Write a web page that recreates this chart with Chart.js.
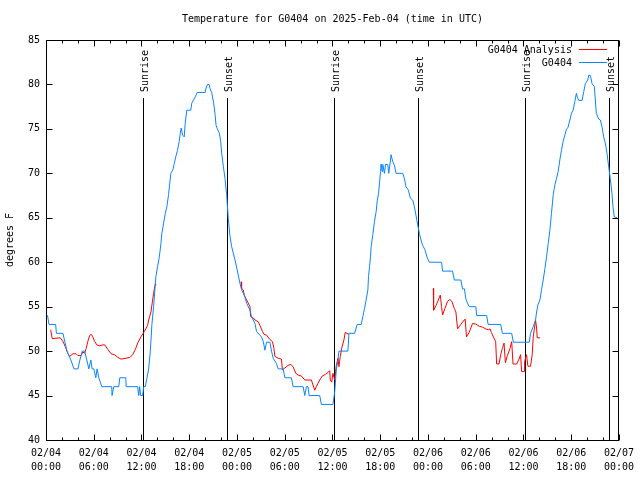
<!DOCTYPE html>
<html lang="en">
<head>
<meta charset="UTF-8">
<title>Temperature for G0404</title>
<script src="https://cdn.jsdelivr.net/npm/chart.js"></script>
<style>
  html, body { margin: 0; padding: 0; background: #fff; }
</style>
</head>
<body>
<canvas id="tempChart" width="640" height="480"></canvas>
<script>
// hours after 02/04 00:00 UTC, temperature in degrees F
var obsHours = [0.00,0.19,0.38,1.21,1.31,2.13,2.38,2.63,3.13,3.51,
  4.01,4.26,4.55,4.85,5.13,5.38,5.63,5.80,6.01,6.26,
  6.42,6.64,7.01,8.26,8.30,8.51,9.14,9.27,10.02,10.08,
  11.52,11.65,11.77,11.90,12.15,12.27,12.48,12.65,12.90,13.11,
  13.31,13.52,13.81,14.02,14.24,14.44,14.56,14.78,14.99,15.19,
  15.40,15.53,15.69,15.94,16.12,16.32,16.53,16.74,16.87,16.99,
  17.16,17.37,17.49,17.69,18.19,18.32,18.53,18.75,19.00,20.00,
  20.12,20.29,20.50,20.62,20.82,21.07,21.25,21.37,21.54,21.79,
  21.95,22.08,22.29,22.50,22.70,22.92,23.13,23.33,23.75,24.08,
  24.38,24.58,25.01,25.21,25.63,25.83,26.26,26.46,27.08,27.30,
  27.51,27.71,28.14,28.34,28.55,28.96,29.18,29.80,30.02,30.84,
  31.05,32.31,32.52,32.72,32.93,33.06,34.40,34.60,36.06,36.28,
  36.48,36.69,36.81,37.94,38.07,38.78,39.11,39.61,39.82,40.03,
  40.23,40.45,40.53,40.66,40.78,40.86,41.07,41.28,41.49,41.61,
  41.79,41.91,42.04,42.11,42.24,42.32,42.54,42.66,42.95,43.07,
  43.29,43.36,43.58,43.79,43.99,44.83,45.04,45.24,45.54,45.79,
  46.08,46.29,46.49,46.71,46.92,47.12,47.33,47.62,47.87,48.17,
  49.71,49.84,51.09,51.31,52.13,52.34,52.59,52.75,52.97,53.18,
  54.01,54.13,55.38,55.56,57.14,57.35,58.52,58.73,60.73,60.89,
  61.23,61.52,61.65,61.82,62.07,62.27,62.48,62.70,62.90,63.11,
  63.32,63.52,63.74,63.95,64.15,64.36,64.57,64.78,64.99,65.20,
  65.40,65.61,65.83,66.03,66.24,66.45,66.65,66.80,66.95,67.37,
  67.58,67.78,68.08,68.21,68.41,68.62,68.91,69.03,69.16,69.46,
  69.66,69.87,70.08,70.29,70.50,70.71,70.91,71.12,71.25,71.41,
  71.75];
var obsTemps = [54,54,53,53,52,52,51,50,49,48,
  48,49,50,50,49,48,49,48,48,47,
  48,47,46,46,45,46,46,47,47,46,
  46,45,46,45,45,46,46,46.8,48,50,
  53,55,58.4,59.5,60.6,62.1,63.25,64.4,65.5,66.25,
  67.6,68.7,70,70.4,71.1,71.9,72.6,73.6,74.5,75.1,
  74.3,74.1,75.6,77.1,77.1,77.9,78.25,78.6,79.1,79.1,
  79.6,80,80,79.5,79.1,77.9,76.6,75.4,75,74.5,
  73.6,72.25,70.75,69.4,67.6,64.75,62.9,61.75,60.25,58.9,
  57.6,56.9,56.1,55.4,54.6,53.9,53.1,52.2,51.6,51.1,
  50.1,51,51,50,49.2,48.6,48,48,47,47,
  46,46,45,46,46,45,45,44,44,45.4,
  47.9,49,50,50,52,52,53,53,53.9,54.8,
  55.75,56.9,58.4,59.5,60.6,61.75,63.1,64.6,65.7,66.8,
  67.75,68.9,70.2,71.05,70.2,71,70,71,71,70,
  71.5,72.1,71.3,70.9,70,70,69.4,68.5,68.1,67.2,
  67,66.25,65.3,64.2,63.25,62.5,61.9,61.4,60.6,60,
  60,59,59,58,58,57,57,55.9,55.4,55,
  55,54,54,53,53,52,52,51,51,52,
  52.75,53.5,54.4,55.2,55.75,56.9,58,59.3,60.6,62.1,
  63.6,65.5,67.6,68.7,69.4,70.2,71.5,72.6,73.6,74.3,
  74.95,75.2,76,76.75,77.1,78.06,79,78.5,78.2,78.2,
  79.2,80.1,80.5,81.06,81,80.1,79.75,78.25,76.75,76.1,
  76,75.25,74.1,73.4,72.25,70.75,69.4,67.75,66.25,65.1,
  65];

// analysis comes in three separate pieces
var anaHours1 = [0.59,0.79,1.79,2.13,2.42,2.75,2.97,3.38,3.79,4.01,
  4.42,4.63,4.85,5.05,5.26,5.47,5.67,5.89,6.10,6.39,
  6.72,7.14,7.39,7.76,8.18,8.60,9.02,9.43,10.06,10.56,
  10.89,11.23,11.52,11.93,12.36,12.77,12.90,13.19,13.40,13.52,
  13.74,13.84];
var anaTemps1 = [52.4,51.4,51.5,51.1,50.5,49.75,49.4,49.7,49.7,49.5,
  49.5,49.9,49.75,50.3,51.1,51.7,51.9,51.6,51.1,50.7,
  50.6,50.7,50.7,50.2,49.7,49.6,49.3,49.1,49.2,49.3,
  49.6,50.2,50.9,51.6,52.2,52.9,53.5,54.4,55.75,56.5,
  57.6,57.5];
var anaHours2 = [24.51,24.58,24.79,24.92,25.21,25.42,25.63,25.71,26.04,26.26,
  26.67,26.88,27.21,27.39,27.71,28.14,28.46,28.64,28.76,29.18,
  29.59,29.71,30.02,30.43,30.77,31.05,31.39,31.68,32.09,32.52,
  33.35,33.77,33.97,34.40,34.72,35.15,35.44,35.65,35.73,35.90,
  36.06,36.28,36.48,36.69,36.81,36.98,37.15,37.44,37.60,37.85,
  37.94];
var anaTemps2 = [57.8,57.06,56.9,56.25,55.75,55.4,55.0,53.9,53.75,53.5,
  53.3,52.9,52.2,51.9,51.8,51.3,51.06,50.3,49.4,49.2,
  49.1,47.9,48.1,48.4,48.5,48.25,47.5,47.3,47.2,46.75,
  46.75,45.6,46.0,46.75,47.2,47.4,47.6,47.8,46.75,46.5,
  47.5,46.75,48.4,49.2,48.25,49.4,50.3,51.25,52.1,52.0,
  51.9];
var anaHours3 = [48.67,48.71,49.00,49.30,49.55,49.71,49.84,50.13,50.46,50.75,
  51.00,51.31,51.51,51.72,52.13,52.55,52.68,52.84,53.18,53.59,
  54.01,54.43,54.85,55.26,55.60,55.81,55.97,56.22,56.51,56.63,
  56.93,57.14,57.35,57.56,57.73,57.98,58.31,58.52,58.69,59.14,
  59.44,59.64,59.77,60.07,60.14,60.39,60.56,60.89,61.10,61.23,
  61.40,61.52,61.65,61.73,62.07];
var anaTemps3 = [57.06,54.6,55.1,55.75,56.3,55,54.06,54.8,55.6,55.8,
  55.6,54.8,54.4,52.5,53.0,53.5,53.6,51.6,52.1,53.1,
  53.05,52.8,52.7,52.5,52.4,52.5,52.1,51.6,51.06,48.55,
  48.55,49.6,50.3,50.9,48.7,49.5,50.3,51.06,48.55,48.55,
  49.1,49.6,47.7,47.7,48.8,49.6,48.3,48.3,49.6,51.6,
  52.7,53.5,52.6,51.5,51.5];

var sunHours = [12.19, 22.70, 36.23, 46.79, 60.14, 70.78];
var sunLabels = ['Sunrise', 'Sunset', 'Sunrise', 'Sunset', 'Sunrise', 'Sunset'];

var xTickLabels = [['02/04','00:00'],['02/04','06:00'],['02/04','12:00'],['02/04','18:00'],
  ['02/05','00:00'],['02/05','06:00'],['02/05','12:00'],['02/05','18:00'],
  ['02/06','00:00'],['02/06','06:00'],['02/06','12:00'],['02/06','18:00'],
  ['02/07','00:00']];

var chartTitle = 'Temperature for G0404 on 2025-Feb-04 (time in UTC)';
var MONO = '"DejaVu Sans Mono", "Liberation Mono", monospace';

function toPoints(hours, temps) {
  return hours.map(function (h, i) { return { x: h, y: temps[i] }; });
}

// null point between pieces so the line breaks
var analysisData = toPoints(anaHours1, anaTemps1)
  .concat([{ x: 14, y: null }])
  .concat(toPoints(anaHours2, anaTemps2))
  .concat([{ x: 38, y: null }])
  .concat(toPoints(anaHours3, anaTemps3));

// gnuplot style frame, inward ticks, sun lines, title and key
var gnuplotLook = {
  id: 'gnuplotLook',
  beforeDatasetsDraw: function (chart) {
    var ctx = chart.ctx, a = chart.chartArea, x = chart.scales.x;
    ctx.save();
    ctx.strokeStyle = '#000';
    ctx.fillStyle = '#000';
    ctx.lineWidth = 1;
    ctx.font = '10px ' + MONO;
    sunHours.forEach(function (h, i) {
      var px = Math.round(x.getPixelForValue(h)) + 0.5;
      ctx.beginPath();
      ctx.moveTo(px, a.top + 58);
      ctx.lineTo(px, a.bottom);
      ctx.stroke();
      ctx.save();
      ctx.translate(px + 2, a.top + 52);
      ctx.rotate(-Math.PI / 2);
      ctx.textAlign = 'left';
      ctx.textBaseline = 'middle';
      ctx.fillText(sunLabels[i], 0, 0);
      ctx.restore();
    });
    ctx.restore();
  },
  afterDatasetsDraw: function (chart) {
    var ctx = chart.ctx, a = chart.chartArea;
    var x = chart.scales.x, y = chart.scales.y;
    var L = Math.round(a.left) + 0.5, R = Math.round(a.right) - 0.5;
    var T = Math.round(a.top) + 0.5, B = Math.round(a.bottom) + 0.5;
    ctx.save();
    ctx.strokeStyle = '#000';
    ctx.lineWidth = 1;
    ctx.beginPath();
    x.ticks.forEach(function (t) {
      var px = Math.round(x.getPixelForValue(t.value)) + 0.5;
      var len = t.value % 6 === 0 ? 6 : 3;
      ctx.moveTo(px, B); ctx.lineTo(px, B - len);
      ctx.moveTo(px, T); ctx.lineTo(px, T + len);
    });
    y.ticks.forEach(function (t) {
      var py = Math.round(y.getPixelForValue(t.value)) + 0.5;
      ctx.moveTo(L, py); ctx.lineTo(L + 6, py);
      ctx.moveTo(R, py); ctx.lineTo(R - 6, py);
    });
    ctx.stroke();
    ctx.strokeRect(L, T, R - L, B - T);

    ctx.fillStyle = '#000';
    ctx.font = '10px ' + MONO;
    ctx.textBaseline = 'middle';
    ctx.textAlign = 'center';
    ctx.fillText(chartTitle, (a.left + a.right) / 2, 19);

    // key
    ctx.textAlign = 'right';
    chart.data.datasets.forEach(function (ds, i) {
      var ky = a.top + 10 + i * 13;
      ctx.fillStyle = '#000';
      ctx.fillText(ds.label, a.right - 47, ky);
      ctx.strokeStyle = ds.borderColor;
      ctx.beginPath();
      ctx.moveTo(a.right - 40, Math.round(ky) - 0.5);
      ctx.lineTo(a.right - 12, Math.round(ky) - 0.5);
      ctx.stroke();
    });
    ctx.restore();
  }
};

Chart.defaults.font.family = MONO;
Chart.defaults.font.size = 10;
Chart.defaults.color = '#000';

var ctx = document.getElementById('tempChart').getContext('2d');
var chart = new Chart(ctx, {
  type: 'line',
  data: {
    datasets: [{
      label: 'G0404 Analysis',
      data: analysisData,
      borderColor: '#ff0000',
      borderWidth: 1,
      pointRadius: 0,
      fill: false,
      spanGaps: false,
      order: 1
    }, {
      label: 'G0404',
      data: toPoints(obsHours, obsTemps),
      borderColor: '#0a84ff',
      borderWidth: 1,
      pointRadius: 0,
      fill: false,
      order: 0
    }]
  },
  options: {
    responsive: false,
    animation: false,
    devicePixelRatio: 1,
    layout: { padding: { top: 40, right: 18, left: 0, bottom: 0 } },
    plugins: {
      legend: { display: false },
      tooltip: { enabled: false }
    },
    scales: {
      x: {
        type: 'linear',
        min: 0,
        max: 72,
        grid: { display: false, drawTicks: false },
        border: { display: false },
        afterFit: function (s) { s.height = 40; },
        ticks: {
          stepSize: 2,
          maxTicksLimit: 100,
          autoSkip: false,
          maxRotation: 0,
          minRotation: 0,
          padding: 6,
          font: { size: 10, lineHeight: 1.4 },
          callback: function (v) { return v % 6 === 0 ? xTickLabels[v / 6] : ''; }
        }
      },
      y: {
        min: 40,
        max: 85,
        grid: { display: false, drawTicks: false },
        border: { display: false },
        afterFit: function (s) { s.width = 46; },
        ticks: { stepSize: 5, padding: 6 },
        title: { display: true, text: 'degrees F', padding: { top: 4, bottom: 4 } }
      }
    }
  },
  plugins: [gnuplotLook]
});
</script>
</body>
</html>
